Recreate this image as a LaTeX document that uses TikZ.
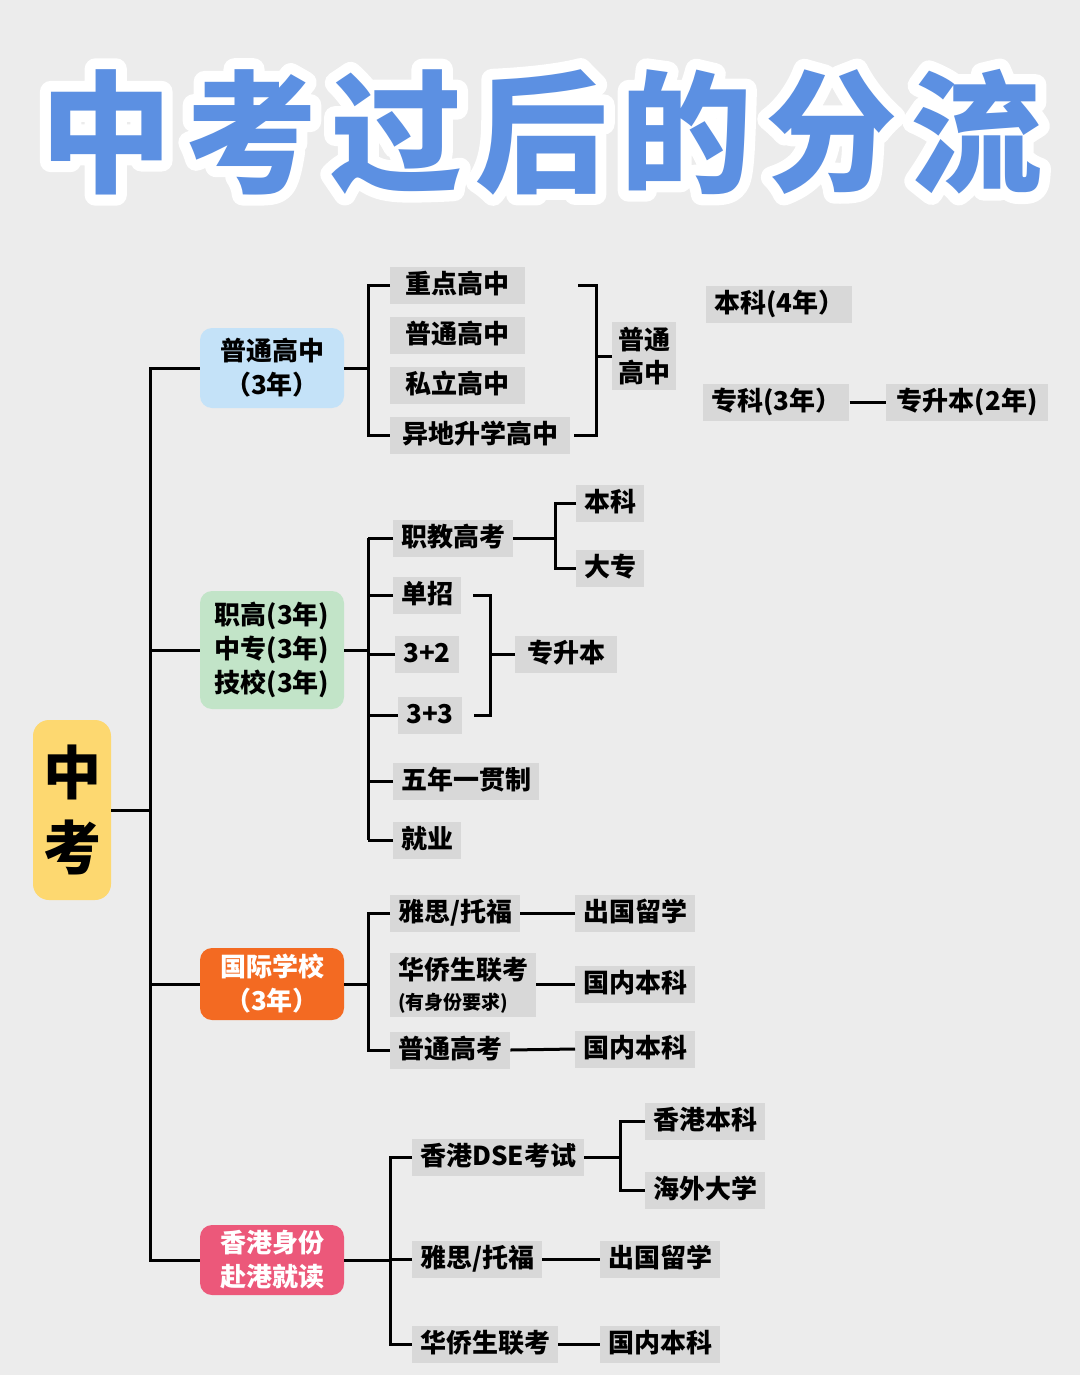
\documentclass[tikz,border=0pt]{standalone}
\usepackage{fontspec}
\setmainfont{Noto Sans CJK SC}
\usetikzlibrary{positioning}
\definecolor{bgc}{RGB}{236,236,236}
\definecolor{lblgray}{RGB}{216,216,216}
\definecolor{ttlblue}{RGB}{92,144,226}
\definecolor{examy}{RGB}{253,216,112}
\definecolor{grpblue}{RGB}{196,226,248}
\definecolor{grpgreen}{RGB}{194,228,200}
\definecolor{grporange}{RGB}{243,106,34}
\definecolor{grppink}{RGB}{236,88,122}
\newcommand{\strokeon}{\special{pdf:literal direct 1 1 1 RG 22 w 1 j 1 Tr}}

\begin{document}
\begin{tikzpicture}[x=1pt, y=-1pt,
    ttl/.style={font=\bfseries\fontsize{132}{132}\selectfont, inner sep=0pt},
    root/.style={fill=examy, rounded corners=16pt, minimum width=78pt, minimum height=180pt, align=center, inner sep=0pt, font=\bfseries\fontsize{58}{75}\selectfont},
    grp/.style={rounded corners=12pt, minimum width=144pt, align=center, inner sep=0pt, font=\bfseries\fontsize{26}{34}\selectfont},
    lblbase/.style={fill=lblgray, anchor=west, inner xsep=8pt, inner ysep=5pt, font=\bfseries\fontsize{26}{30}\selectfont},
    lbl/.style={lblbase, text height=22pt, text depth=5pt},
    link/.style={line width=3pt}
]
    \useasboundingbox (0,0) rectangle (1080,1375);
    \fill[bgc] (0,0) rectangle (1080,1375);

    % Title with white outline
    \foreach \c [count=\i from 0] in {中,考,过,后,的,分,流} {
        \node[ttl, text=white] (o\i) at (106+145*\i,132) {\strokeon\c};
        \node[ttl, text=ttlblue] (t\i) at (106+145*\i,132) {\c};
    }

    % Root and trunk
    \node[root] (exam) at (72,810) {中\\考};
    \coordinate (trunk) at (150,0);

    % Groups
    \node[grp, fill=grpblue, minimum height=80pt] (pt) at (272,368) {普通高中\\（3年）};
    \node[grp, fill=grpgreen, minimum height=118pt] (zg) at (272,650) {职高(3年)\\中专(3年)\\技校(3年)};
    \node[grp, fill=grporange, text=white, minimum height=72pt] (gj) at (272,984) {国际学校\\（3年）};
    \node[grp, fill=grppink, text=white, minimum height=70pt] (hk) at (272,1260) {香港身份\\赴港就读};

    \draw[link] (exam.east) -- (exam.east -| trunk);
    \draw[link] (pt.west) -- (pt.west -| trunk) -- (hk.west -| trunk) -- (hk.west);
    \draw[link] (zg.west) -- (zg.west -| trunk);
    \draw[link] (gj.west) -- (gj.west -| trunk);

    % Branch 1: senior high school
    \coordinate (b1) at (368,0);
    \coordinate (r1) at (596,0);
    \node[lbl, minimum width=135pt] (zd) at (390,285) {重点高中};
    \node[lbl, minimum width=135pt] (ptgz) at (390,335) {普通高中};
    \node[lbl, minimum width=135pt] (sl) at (390,385) {私立高中};
    \node[lbl, minimum width=180pt] (yd) at (390,435) {异地升学高中};
    \draw[link] (pt.east) -- (pt.east -| b1);
    \draw[link] (zd.west) -- (zd.west -| b1) -- (yd.west -| b1) -- (yd.west);
    \draw[link] ([xshift=53pt]zd.east) -- (zd.east -| r1) -- (yd.east -| r1) -- ([xshift=4pt]yd.east);
    \node[lblbase, align=center, inner xsep=6pt, font=\bfseries\fontsize{26}{33}\selectfont] (ptg2) at (612,356) {普通\\高中};
    \draw[link] (ptg2.west) -- (ptg2.west -| r1);
    \node[lbl, minimum width=136pt] (bk4) at (706,304) {本科(4年）};
    \node[lbl, minimum width=135pt] (zk3) at (703,402) {专科(3年）};
    \node[lbl, minimum width=162pt] (zsb2) at (886,402) {专升本(2年)};
    \draw[link] (zk3.east) -- (zsb2.west);

    % Branch 2: vocational
    \coordinate (b2) at (368,0);
    \coordinate (s2) at (555,0);
    \coordinate (r2) at (490,0);
    \node[lbl] (zj) at (393,538) {职教高考};
    \node[lbl] (dz) at (393,595) {单招};
    \node[lbl] (s32) at (395,654) {3+2};
    \node[lbl] (s33) at (398,715) {3+3};
    \node[lbl] (wn) at (393,781) {五年一贯制};
    \node[lbl] (jy) at (393,840) {就业};
    \draw[link] (zg.east) -- (zg.east -| b2);
    \draw[link] (zj.west -| b2) -- (jy.west -| b2);
    \foreach \n in {zj,dz,s32,s33,wn,jy}
        \draw[link] (\n.west) -- (\n.west -| b2);
    \node[lbl] (bk) at (576,503) {本科};
    \node[lbl] (dzk) at (576,568) {大专};
    \draw[link] (zj.east) -- (zj.east -| s2);
    \draw[link] (bk.west) -- (bk.west -| s2) -- (dzk.west -| s2) -- (dzk.west);
    \node[lbl, inner xsep=12pt] (zsb) at (515,654) {专升本};
    \draw[link] ([xshift=12pt]dz.east) -- (dz.east -| r2) -- (s33.east -| r2) -- ([xshift=12pt]s33.east);
    \draw[link] (zsb.west) -- (zsb.west -| r2);

    % Branch 3: international school
    \coordinate (b3) at (368,0);
    \node[lbl] (ys) at (390,913) {雅思/托福};
    \node[lblbase, align=left, inner ysep=4pt] (hq) at (390,985) {华侨生联考\\{\fontsize{19}{22}\selectfont(有身份要求)}};
    \node[lbl] (ptgk) at (390,1050) {普通高考};
    \draw[link] (gj.east) -- (gj.east -| b3);
    \draw[link] (ys.west) -- (ys.west -| b3) -- (ptgk.west -| b3) -- (ptgk.west);
    \node[lbl] (cg1) at (575,913) {出国留学};
    \node[lbl] (gn1) at (575,984) {国内本科};
    \node[lbl] (gn2) at (575,1049) {国内本科};
    \draw[link] (ys.east) -- (cg1.west);
    \draw[link] (hq.east |- gn1.west) -- (gn1.west);
    \draw[link] (ptgk.east) -- (gn2.west);

    % Branch 4: Hong Kong
    \coordinate (b4) at (390,0);
    \coordinate (s4) at (620,0);
    \node[lbl] (dse) at (412,1157) {香港DSE考试};
    \node[lbl] (ys2) at (412,1259) {雅思/托福};
    \node[lbl] (hq2) at (412,1344) {华侨生联考};
    \draw[link] (hk.east) -- (hk.east -| b4);
    \draw[link] (dse.west) -- (dse.west -| b4) -- (hq2.west -| b4) -- (hq2.west);
    \draw[link] (ys2.west) -- (ys2.west -| b4);
    \node[lbl] (hkbk) at (645,1121) {香港本科};
    \node[lbl] (hwdx) at (645,1190) {海外大学};
    \draw[link] (dse.east) -- (dse.east -| s4);
    \draw[link] (hkbk.west) -- (hkbk.west -| s4) -- (hwdx.west -| s4) -- (hwdx.west);
    \node[lbl] (cg2) at (600,1259) {出国留学};
    \node[lbl] (gn3) at (600,1344) {国内本科};
    \draw[link] (ys2.east) -- (cg2.west);
    \draw[link] (hq2.east) -- (gn3.west);
\end{tikzpicture}
\end{document}
